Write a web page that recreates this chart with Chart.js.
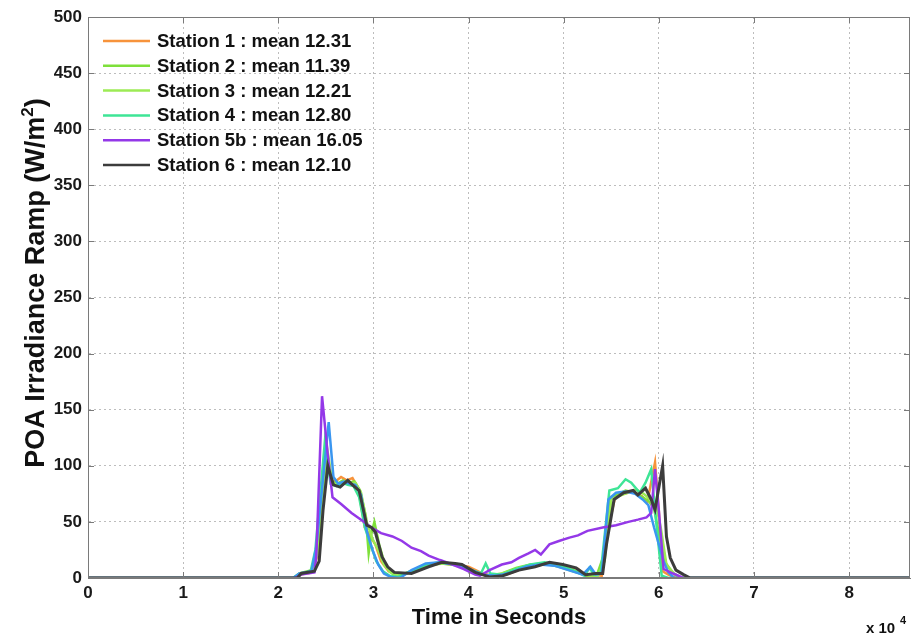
<!DOCTYPE html>
<html>
<head>
    <meta charset="utf-8">
    <title>POA Irradiance Ramp</title>
    <script src="https://cdn.jsdelivr.net/npm/chart.js@4.4.1/dist/chart.umd.min.js"></script>
    <style>
        body { margin: 0; background: #fff; }
        canvas { display: block; }
    </style>
</head>
<body>
    <canvas id="c1" width="923" height="634"></canvas>
    <script>
        // time in seconds, ramp in W/m^2
        var t1 = [0,21800,22300,23600,24100,25000,25500,26000,26600,27200,27800,28400,29100,29600,30200,30800,31600,32600,34000,35600,37000,38500,40000,41500,42500,44000,45500,47000,48500,50000,51500,52400,53200,54000,54700,55400,56300,57300,58200,58800,59300,59600,60000,60400,61000,61800,86400];
        var v1 = [0,0,3,5,20,115,88,86,90,87,89,80,45,38,30,15,6,2,5,11,13,12,10,4,2,3,8,11,13,11,8,2,3,2,45,72,75,77,73,68,90,103,60,6,3,0,0];

        var t2 = [0,21600,22200,23500,24000,25100,25600,26200,26800,27400,28000,28600,29200,29500,29800,30100,30600,31200,32000,33000,34500,36000,37500,39000,40500,42000,43500,45000,46500,48000,49500,51000,52500,53500,54200,54900,55600,56500,57500,58300,59000,59500,60000,60600,61400,62200,86400];
        var v2 = [0,0,4,7,25,108,86,84,87,85,86,78,55,22,40,50,30,12,4,3,8,12,13,11,6,2,4,9,12,13,10,6,2,3,20,72,74,78,76,72,68,62,40,15,5,0,0];

        var t3 = [0,21700,22300,23600,24100,25200,25700,26300,26900,27500,28100,28700,29300,29900,30500,31100,31800,32600,34000,35500,37000,38500,40000,41500,42800,44300,45800,47300,48800,50300,51800,52800,53600,54300,55000,55800,56700,57600,58400,59100,59700,60200,60800,61600,62400,86400];
        var v3 = [0,0,3,6,22,112,85,83,86,84,85,76,50,35,25,12,5,2,6,12,13,12,8,3,2,6,10,12,12,9,5,2,2,15,70,73,76,79,75,70,65,45,12,4,0,0];

        var t4 = [0,21500,22100,23400,23900,24900,25500,26100,26700,27300,27900,28500,29100,29700,30300,31000,31700,32600,34000,35500,37000,38500,40000,41300,41800,42300,43500,45000,46500,48000,49500,51000,52200,52700,53200,53900,54800,55700,56500,57100,58000,58600,59200,59600,60300,61000,86400];
        var v4 = [0,0,3,6,25,122,84,82,85,83,82,72,45,30,15,6,2,1,6,12,14,12,8,4,13,4,3,8,12,14,11,7,2,9,3,5,78,80,88,85,76,85,97,60,2,0,0];

        // blue trace, drawn but not in the legend
        var t5 = [0,21600,22200,23500,24000,25300,25800,26300,26900,27500,28100,28700,29300,29900,30500,31100,31800,32800,34000,35500,37000,38500,40000,41500,43000,44500,46000,47500,49000,50500,52000,52800,53400,54000,54700,55500,56500,57500,58300,58900,59500,60000,60500,61000,61600,86400];
        var v5 = [0,0,4,6,28,139,90,84,86,84,83,74,42,25,12,4,1,0,7,13,14,12,8,3,2,5,10,12,11,7,3,10,3,4,70,76,77,75,70,65,45,30,15,5,0,0];

        var t5b = [0,21800,22400,23800,24000,24600,25200,25700,26600,27700,28700,29800,30800,32000,33000,34000,35000,35800,37000,38300,39500,40700,41200,42200,43500,44500,45300,46300,47000,47600,48500,49500,50600,51500,52500,54100,55500,56800,57800,58700,59200,59600,60000,60500,61500,62600,86400];
        var v5b = [0,0,3,5,20,162,110,72,66,58,52,45,40,37,33,27,24,20,16,12,8,3,2,7,12,14,18,22,25,21,30,33,36,38,42,45,47,50,52,54,58,97,60,8,4,0,0];

        var t6 = [0,22000,22400,23800,24300,24700,25200,25800,26500,27300,27800,28500,29300,29800,30200,30900,31500,32200,34000,35800,37200,38600,39300,40700,42200,43600,45300,47000,48500,49900,51300,52300,53400,54100,54500,55300,56300,57300,57800,58600,59200,59600,60400,60800,61200,61800,62600,63300,86400];
        var v6 = [0,0,4,6,15,60,100,83,81,87,83,78,47,45,41,19,10,5,4,10,14,13,12,5,1,2,7,10,14,12,9,3,4,4,30,70,76,78,74,80,70,61,100,37,18,7,3,0,0];

        var xTicks = [0, 10000, 20000, 30000, 40000, 50000, 60000, 70000, 80000];
        var font = "'Liberation Sans', Arial, sans-serif";

        function pts(t, v) {
            var out = [];
            for (var i = 0; i < t.length; i++) out.push({ x: t[i], y: v[i] });
            return out;
        }

        function series(label, t, v, color, order, width, noLegend) {
            return {
                label: label,
                data: pts(t, v),
                borderColor: color,
                backgroundColor: color,
                borderWidth: width || 2.5,
                pointRadius: 0,
                tension: 0,
                order: order,
                noLegend: !!noLegend
            };
        }

        var matlabBox = {
            id: 'matlabBox',
            afterDatasetsDraw: function(chart) {
                var ctx = chart.ctx, a = chart.chartArea;
                var xs = chart.scales.x, ys = chart.scales.y;
                ctx.save();
                ctx.strokeStyle = '#7a7a7a';
                ctx.lineWidth = 1;
                ctx.strokeRect(a.left + 0.5, a.top + 0.5, a.right - a.left - 1, a.bottom - a.top - 1);
                // inward ticks
                ctx.beginPath();
                xTicks.forEach(function(v) {
                    var px = Math.round(xs.getPixelForValue(v)) + 0.5;
                    ctx.moveTo(px, a.bottom); ctx.lineTo(px, a.bottom - 6);
                    ctx.moveTo(px, a.top); ctx.lineTo(px, a.top + 6);
                });
                for (var y = 0; y <= 500; y += 50) {
                    var py = Math.round(ys.getPixelForValue(y)) + 0.5;
                    ctx.moveTo(a.left, py); ctx.lineTo(a.left + 6, py);
                    ctx.moveTo(a.right, py); ctx.lineTo(a.right - 6, py);
                }
                ctx.stroke();

                // legend in the upper left corner
                ctx.font = 'bold 18.5px ' + font;
                ctx.textBaseline = 'middle';
                ctx.textAlign = 'left';
                var row = 0;
                chart.data.datasets.forEach(function(ds) {
                    if (ds.noLegend) return;
                    var ly = 41 + row * 24.8;
                    ctx.strokeStyle = ds.borderColor;
                    ctx.lineWidth = 2.5;
                    ctx.beginPath();
                    ctx.moveTo(103, ly); ctx.lineTo(150, ly);
                    ctx.stroke();
                    ctx.fillStyle = '#111';
                    ctx.fillText(ds.label, 157, ly + 1);
                    row++;
                });

                // y axis title with a real superscript
                ctx.save();
                ctx.translate(37, 283);
                ctx.rotate(-Math.PI / 2);
                ctx.fillStyle = '#111';
                ctx.textBaseline = 'middle';
                var main = 'POA Irradiance Ramp (W/m';
                ctx.font = 'bold 27px ' + font;
                var w1 = ctx.measureText(main).width;
                ctx.font = 'bold 17px ' + font;
                var w2 = ctx.measureText('2').width;
                ctx.font = 'bold 27px ' + font;
                var w3 = ctx.measureText(')').width;
                var x0 = -(w1 + w2 + w3) / 2;
                ctx.fillText(main, x0, 0);
                ctx.font = 'bold 17px ' + font;
                ctx.fillText('2', x0 + w1, -9);
                ctx.font = 'bold 27px ' + font;
                ctx.fillText(')', x0 + w1 + w2, 0);
                ctx.restore();

                // exponent label
                ctx.fillStyle = '#111';
                ctx.font = 'bold 15px ' + font;
                ctx.textBaseline = 'alphabetic';
                ctx.fillText('x 10', 866, 633);
                ctx.font = 'bold 11px ' + font;
                ctx.fillText('4', 900, 624);
                ctx.restore();
            }
        };

        new Chart(document.getElementById('c1'), {
            type: 'line',
            data: {
                datasets: [
                    series('Station 1 : mean 12.31', t1, v1, '#f7933b', 7),
                    series('Station 2 : mean 11.39', t2, v2, '#7ee03a', 6),
                    series('Station 3 : mean 12.21', t3, v3, '#9ceb55', 5),
                    series('Station 4 : mean 12.80', t4, v4, '#3ee596', 4),
                    series('Station 5', t5, v5, '#3a96f0', 3, 2.5, true),
                    series('Station 5b : mean 16.05', t5b, v5b, '#9438e8', 2),
                    series('Station 6 : mean 12.10', t6, v6, '#3c3c3c', 1, 3)
                ]
            },
            options: {
                responsive: false,
                animation: false,
                layout: { padding: { top: 17, right: 13 } },
                plugins: {
                    legend: { display: false },
                    tooltip: { enabled: false }
                },
                scales: {
                    x: {
                        type: 'linear',
                        min: 0,
                        max: 86400,
                        afterBuildTicks: function(s) {
                            s.ticks = xTicks.map(function(v) { return { value: v }; });
                        },
                        afterFit: function(s) { s.height = 56; },
                        ticks: {
                            padding: 5,
                            maxRotation: 0,
                            color: '#1a1a1a',
                            font: { family: font, size: 17, weight: 'bold' },
                            callback: function(v) { return v / 10000; }
                        },
                        grid: { color: '#bdbdbd', drawTicks: false },
                        border: { display: true, color: '#7a7a7a', dash: [2, 3] },
                        title: {
                            display: true,
                            text: 'Time in Seconds',
                            color: '#111',
                            font: { family: font, size: 22, weight: 'bold' },
                            padding: { top: 0, bottom: 3 }
                        }
                    },
                    y: {
                        min: 0,
                        max: 500,
                        afterFit: function(s) { s.width = 88; },
                        ticks: {
                            stepSize: 50,
                            padding: 6,
                            color: '#1a1a1a',
                            font: { family: font, size: 17, weight: 'bold' }
                        },
                        grid: { color: '#bdbdbd', drawTicks: false },
                        border: { display: true, color: '#7a7a7a', dash: [2, 3] }
                    }
                }
            },
            plugins: [matlabBox]
        });
    </script>
</body>
</html>
